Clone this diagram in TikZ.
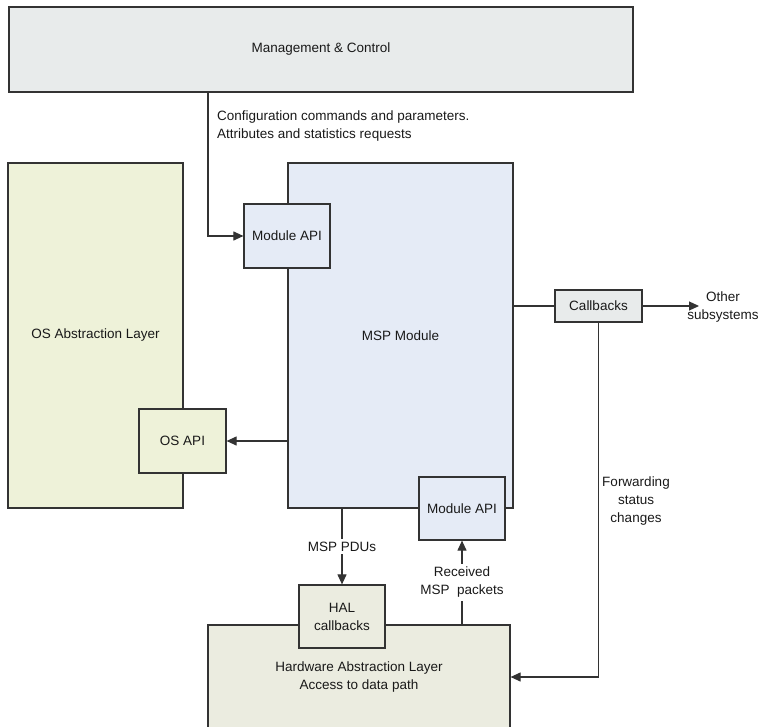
\documentclass[tikz,border=0pt]{standalone}
\usepackage{fontspec}
\setmainfont{Liberation Sans}
\usepackage{xcolor}
\usetikzlibrary{arrows.meta}
\definecolor{mgmtgray}{HTML}{E8EBEB}
\definecolor{osgreen}{HTML}{EEF2D9}
\definecolor{mspblue}{HTML}{E5EBF6}
\definecolor{halgray}{HTML}{EBECE0}
\definecolor{edgegray}{HTML}{333333}
\tikzset{box/.style={draw=edgegray,line width=1.2pt,inner sep=0pt,align=center,text=black!90},
 mgmt/.style={box,fill=mgmtgray},
 os/.style={box,fill=osgreen},
 msp/.style={box,fill=mspblue},
 hal/.style={box,fill=halgray},
 wire/.style={draw=edgegray,line width=1.1pt},
 arr/.style={wire,-{Triangle[length=10pt,width=9pt]}},
 lbl/.style={align=center,inner sep=1pt,text=black!90},
 }

\begin{document}
\begin{tikzpicture}[x=1pt,y=-1pt,font=\fontsize{13.5}{18}\selectfont]
    \useasboundingbox (0,0) rectangle (760,727);
        \node[mgmt,minimum width=624,minimum height=85] (mgmt) at (321,49.5) {Management \& Control};
        \node[os,minimum width=175,minimum height=345] (oslayer) at (95.5,335.5) {OS Abstraction Layer};
        \node[msp,minimum width=225,minimum height=345] (msp) at (400.5,335.5) {MSP Module};
        \node[msp,minimum width=86,minimum height=64] (apitop) at (287,236) {Module API};
        \node[os,minimum width=87,minimum height=64] (osapi) at (182.5,441) {OS API};
        \node[msp,minimum width=86,minimum height=63] (apibot) at (462,508.5) {Module API};
        \node[hal,minimum width=302,minimum height=104] (hal) at (359,677) {Hardware Abstraction Layer\\Access to data path};
        \node[hal,minimum width=86,minimum height=63] (halcb) at (342,616.5) {HAL\\callbacks};
        \node[mgmt,minimum width=87,minimum height=32] (callbacks) at (598.5,306) {Callbacks};
        \node[lbl,anchor=west,align=left] (cfgtxt) at (216,126) {Configuration commands and parameters.\\Attributes and statistics requests};
        \node[lbl] (others) at (723,307.5) {Other\\subsystems};
        \node[lbl] (fwdtxt) at (636,501) {Forwarding\\status\\changes};
        \coordinate (cfg) at (208,92);
        \coordinate (othertip) at (699,306);
        \draw[arr] (cfg) |- (apitop.west);
        \draw[wire] (msp.east |- callbacks.west) -- (callbacks.west);
        \draw[arr] (callbacks.east) -- (othertip);
        \draw[arr] (callbacks.south) |- (hal.east);
        \draw[arr] (msp.west |- osapi.east) -- (osapi.east);
        \draw[arr] (msp.south -| halcb.north) -- (halcb.north) node[midway,lbl,fill=white,inner sep=3pt] (pdutxt) {MSP PDUs};
        \draw[arr] (hal.north -| apibot.south) -- (apibot.south) node[midway,lbl,fill=white,inner sep=3pt] (rcvtxt) {Received\\MSP\ \ packets};
    \end{tikzpicture}
\end{document}
